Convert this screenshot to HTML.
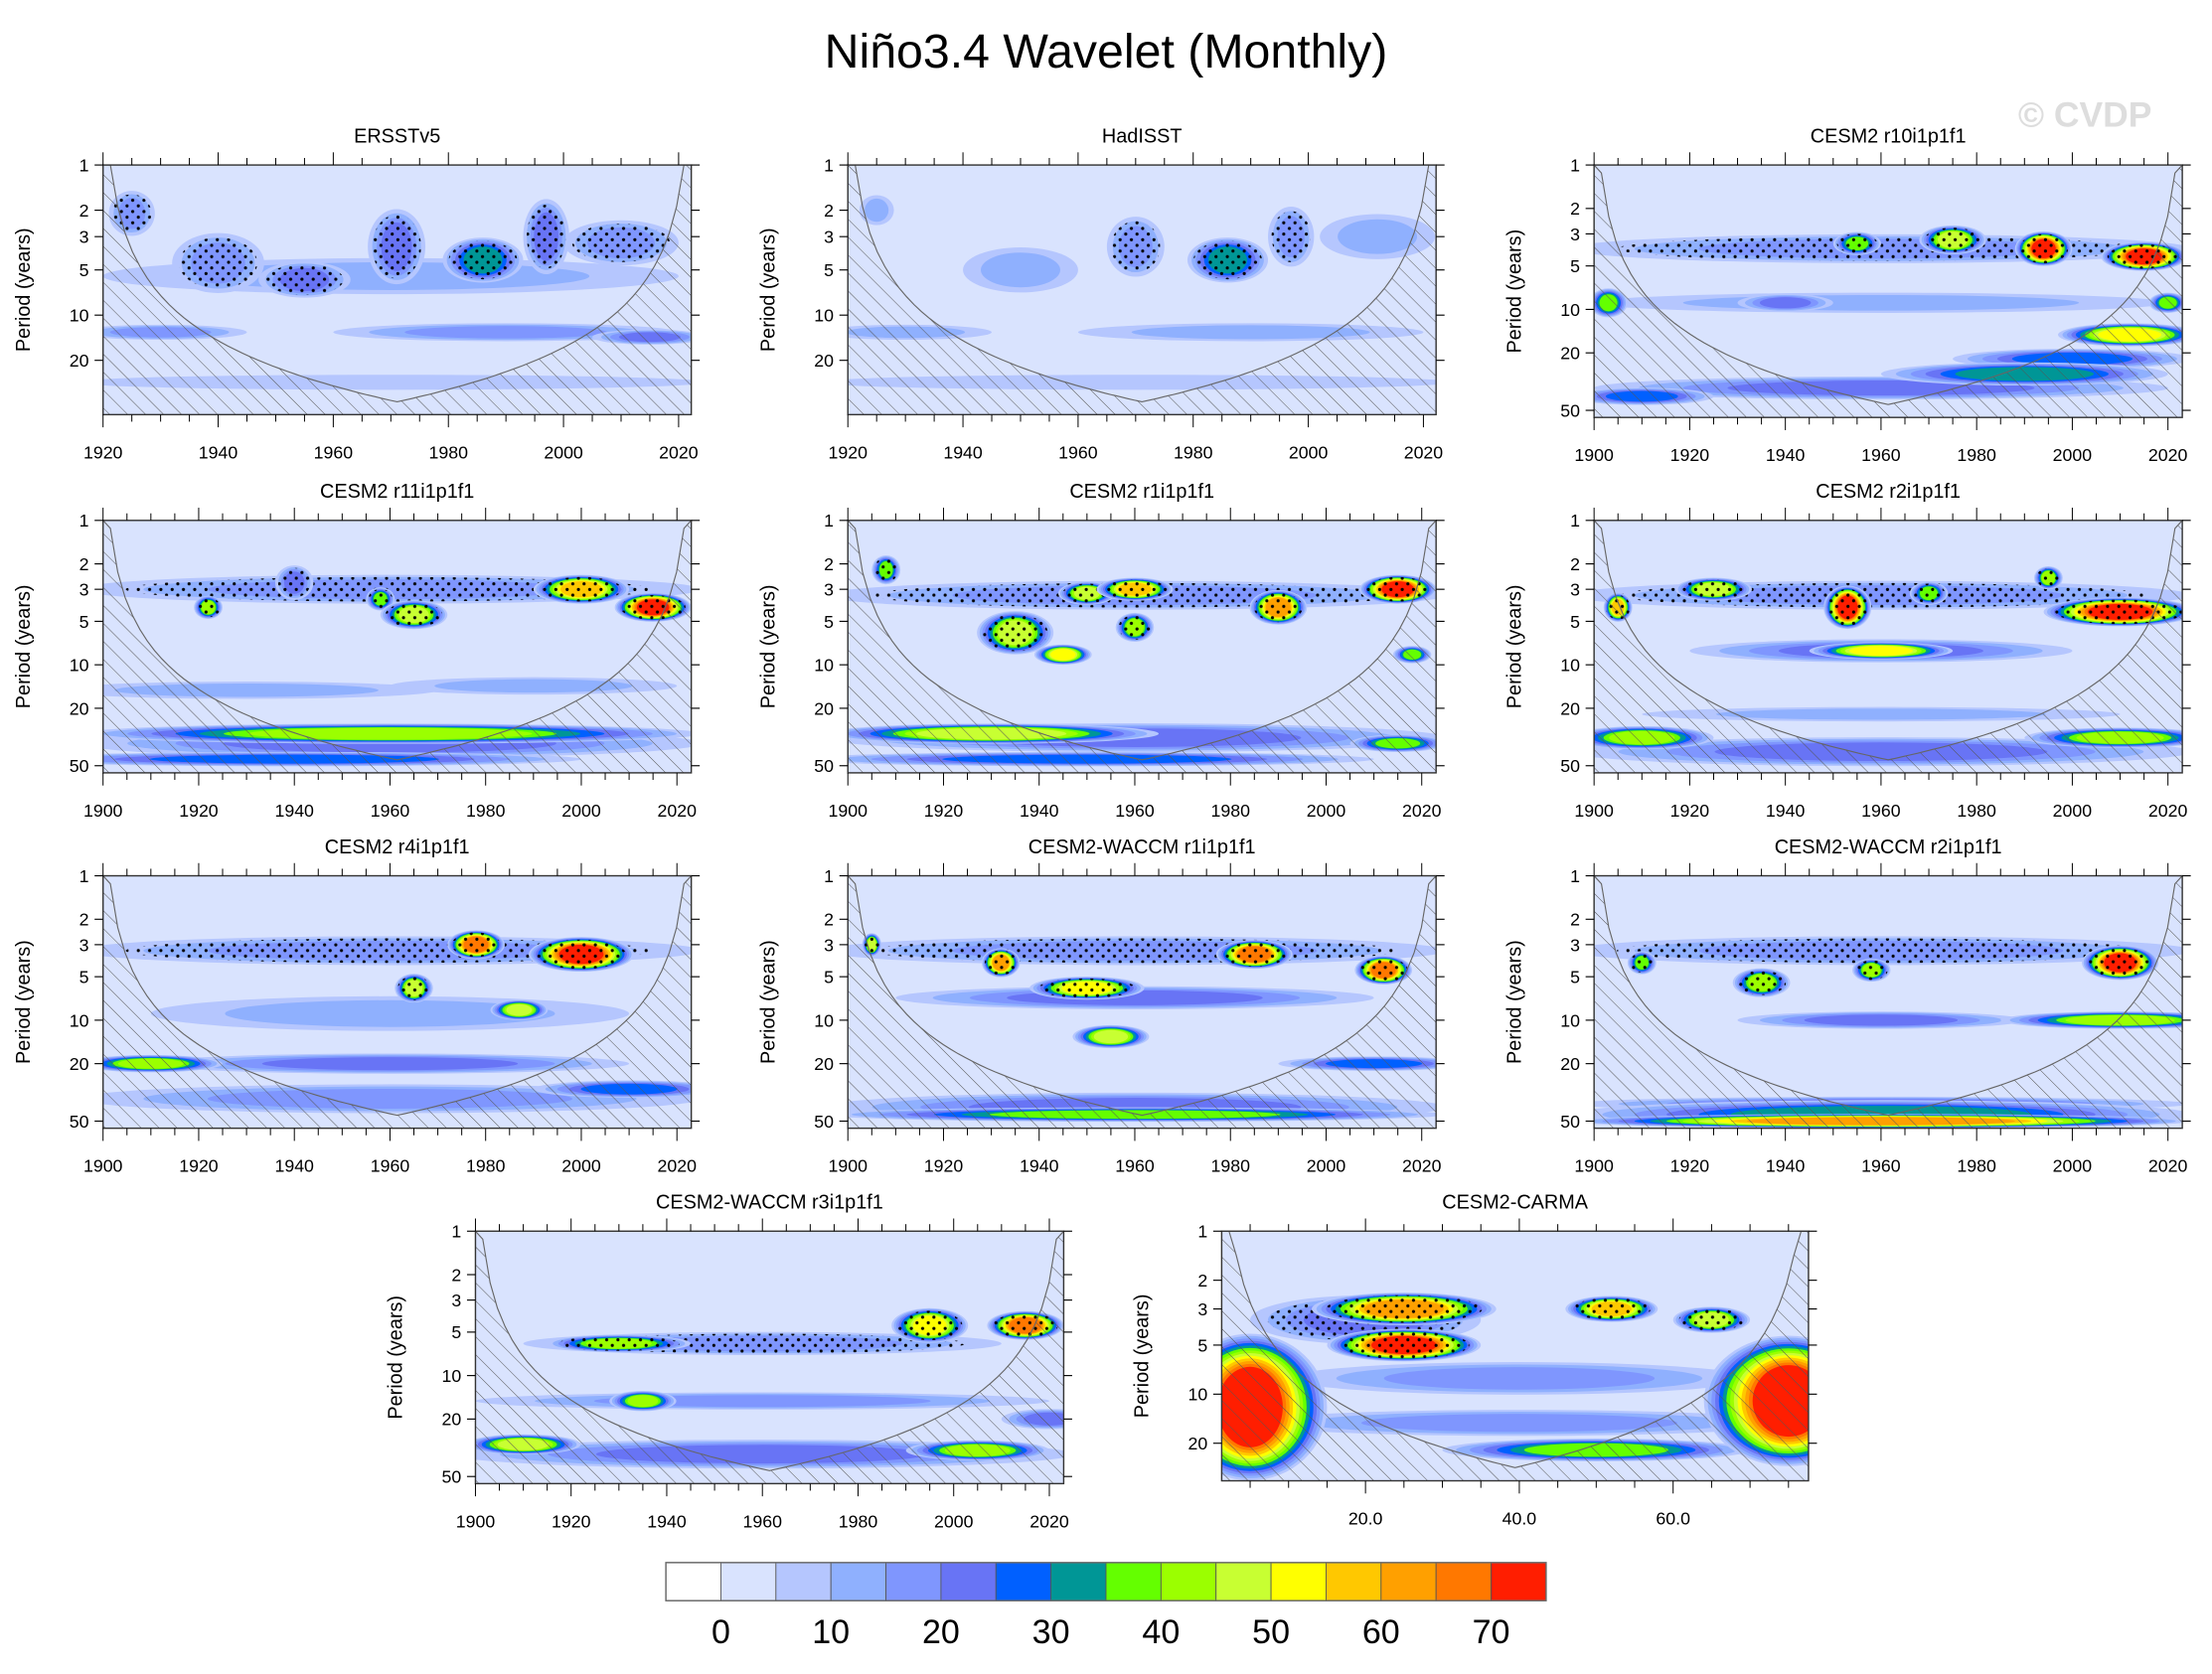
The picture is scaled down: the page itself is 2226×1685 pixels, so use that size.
<!DOCTYPE html>
<html><head><meta charset="utf-8">
<style>html,body{margin:0;padding:0;background:#fff}svg{display:block}text{font-family:"Liberation Sans",sans-serif}</style>
</head><body>
<svg id="fig" width="2226" height="1685" viewBox="0 0 1568 1187" xmlns="http://www.w3.org/2000/svg">
<defs>
<pattern id="hatch" patternUnits="userSpaceOnUse" width="9" height="9" patternTransform="rotate(-45)"><line x1="0" y1="0" x2="0" y2="9" stroke="#555" stroke-width="0.7"/></pattern>
<pattern id="dots" patternUnits="userSpaceOnUse" width="8" height="8"><circle cx="2" cy="2" r="1.1" fill="#000"/><circle cx="6" cy="6" r="1.1" fill="#000"/></pattern>
</defs>
<text x="784" y="48" font-size="34" text-anchor="middle">Niño3.4 Wavelet (Monthly)</text>
<text x="1478" y="90" font-size="25" font-weight="bold" fill="#ddd" text-anchor="middle">© CVDP</text>
<g id="panels"></g>
<g id="cbar"></g>
</svg>
<script>
const COLORS=["#ffffff","#d9e3fe","#b5c6fe","#8fb0fe","#7f96fe","#6874f5","#0060ff","#009696","#64ff00","#9bff00","#c8ff32","#ffff00","#ffc800","#ffa000","#ff7800","#ff1e00"];
const cbarLabels=["0","10","20","30","40","50","60","70"];
// blobs: [time, period, half-width(time units), half-height(decades), level]
const blobsERSST=[[1925,2.1,4,0.15,4],[1940,4.5,8,0.2,4],[1955,5.8,8,0.12,5],[1971,3.5,5,0.25,5],[1986,4.3,7,0.15,7],[1997,3,4,0.25,5],[2010,3.3,10,0.15,4],[1970,5.5,50,0.12,3],[1990,13,30,0.06,4],[1930,13,15,0.05,4],[1970,28,55,0.05,2],[2015,14,10,0.05,5]];
const blobsHad=[[1986,4.3,7,0.15,7],[1970,3.5,5,0.2,4],[1997,3,4,0.2,4],[1950,5,10,0.15,3],[1925,2,3,0.1,3],[1930,13,15,0.05,3],[1990,13,30,0.06,3],[1970,28,55,0.05,2],[2012,3,10,0.15,3]];
const blobsR10=[[1960,3.8,65,0.1,4],[1994,3.8,6,0.12,15],[2015,4.3,9,0.1,15],[1975,3.3,7,0.1,10],[1955,3.5,5,0.08,8],[1903,9,4,0.1,8],[1940,9,10,0.06,5],[1960,9,60,0.07,3],[2012,15,15,0.08,11],[2020,9,4,0.07,8],[1960,35,60,0.08,5],[1990,28,30,0.08,7],[1910,40,15,0.06,6],[2000,22,25,0.07,6]];
const blobsR11=[[1960,3,65,0.1,4],[2015,4,8,0.1,15],[2000,3,10,0.1,12],[1922,4,3,0.08,9],[1965,4.5,7,0.1,10],[1958,3.5,3,0.08,8],[1940,2.7,4,0.12,5],[1960,30,65,0.07,9],[1960,35,65,0.1,5],[1940,45,60,0.05,6],[1930,15,40,0.06,3],[1990,14,30,0.06,3]];
const blobsR1=[[1935,6,8,0.15,10],[1945,8.5,6,0.07,11],[1960,3,8,0.08,12],[1950,3.2,6,0.08,10],[1990,4,6,0.12,13],[2015,3,8,0.1,15],[1960,5.5,4,0.1,9],[1908,2.2,3,0.1,8],[1960,3.3,65,0.1,4],[2018,8.5,4,0.06,8],[1930,30,35,0.07,10],[1960,32,65,0.1,5],[2015,35,10,0.06,8],[1950,45,60,0.05,6]];
const blobsR2=[[1905,4,3,0.1,12],[1925,3,8,0.08,10],[1953,4,5,0.15,15],[1970,3.2,4,0.08,8],[1995,2.5,3,0.08,9],[2010,4.3,16,0.1,15],[1960,8,15,0.06,11],[1960,3.3,65,0.1,4],[1960,8,40,0.08,5],[1910,32,15,0.08,9],[2010,32,20,0.07,9],[1960,40,65,0.1,5],[1960,22,50,0.05,3]];
const blobsR4=[[1978,3,6,0.1,14],[2000,3.5,11,0.12,15],[1965,6,4,0.1,10],[1987,8.5,6,0.07,10],[1960,3.3,65,0.1,4],[1960,9,50,0.12,3],[1910,20,15,0.06,9],[1960,20,50,0.07,5],[1960,35,65,0.1,4],[2010,30,20,0.06,6]];
const blobsW1=[[1905,3,2,0.08,10],[1932,4,4,0.1,13],[1950,6,12,0.08,11],[1955,13,8,0.08,10],[1985,3.5,8,0.1,14],[2012,4.5,6,0.1,14],[1960,3.3,65,0.1,4],[1960,7,50,0.08,5],[1960,45,65,0.05,8],[1960,40,65,0.1,5],[2010,20,20,0.05,6]];
const blobsW2=[[2010,4,8,0.12,15],[1935,5.5,6,0.1,9],[1958,4.5,4,0.08,9],[1910,4,3,0.08,8],[2010,10,25,0.06,9],[1960,10,30,0.06,5],[1960,3.3,65,0.1,4],[1960,50,65,0.05,13],[1960,45,65,0.1,7],[1960,38,65,0.05,5]];
const blobsW3=[[1995,4.5,8,0.12,11],[2015,4.5,8,0.1,14],[1930,6,15,0.06,9],[1935,15,7,0.07,9],[1960,6,50,0.08,4],[1960,15,60,0.06,4],[2020,20,10,0.07,5],[1910,30,12,0.07,10],[2005,33,15,0.07,9],[1960,35,65,0.1,5]];
const blobsCARMA=[[40,8,30,0.1,4],[40,15,35,0.08,4],[20,3.5,15,0.15,5],[5,12,10,0.45,15],[75,11,11,0.4,15],[25,3,12,0.1,13],[25,5,10,0.1,15],[52,3,6,0.08,12],[65,3.5,5,0.08,10],[50,22,20,0.07,8]];
const yearTicks=[1900,1920,1940,1960,1980,2000,2020];
const carmaTicks=[20,40,60];
const periodTicks=[1,2,3,5,10,20,50];

const panels=[
 {name:"ERSSTv5",x0:73,x1:490,y0:117,y1:294,t0:1920,t1:2022.2,pmax:46,blobs:blobsERSST,xt:yearTicks,minor:5},
 {name:"HadISST",x0:601,x1:1018,y0:117,y1:294,t0:1920,t1:2022.2,pmax:46,blobs:blobsHad,xt:yearTicks,minor:5},
 {name:"CESM2 r10i1p1f1",x0:1130,x1:1547,y0:117,y1:296,t0:1900,t1:2023,pmax:56,blobs:blobsR10,xt:yearTicks,minor:5},
 {name:"CESM2 r11i1p1f1",x0:73,x1:490,y0:369,y1:548,t0:1900,t1:2023,pmax:56,blobs:blobsR11,xt:yearTicks,minor:5},
 {name:"CESM2 r1i1p1f1",x0:601,x1:1018,y0:369,y1:548,t0:1900,t1:2023,pmax:56,blobs:blobsR1,xt:yearTicks,minor:5},
 {name:"CESM2 r2i1p1f1",x0:1130,x1:1547,y0:369,y1:548,t0:1900,t1:2023,pmax:56,blobs:blobsR2,xt:yearTicks,minor:5},
 {name:"CESM2 r4i1p1f1",x0:73,x1:490,y0:621,y1:800,t0:1900,t1:2023,pmax:56,blobs:blobsR4,xt:yearTicks,minor:5},
 {name:"CESM2-WACCM r1i1p1f1",x0:601,x1:1018,y0:621,y1:800,t0:1900,t1:2023,pmax:56,blobs:blobsW1,xt:yearTicks,minor:5},
 {name:"CESM2-WACCM r2i1p1f1",x0:1130,x1:1547,y0:621,y1:800,t0:1900,t1:2023,pmax:56,blobs:blobsW2,xt:yearTicks,minor:5},
 {name:"CESM2-WACCM r3i1p1f1",x0:337,x1:754,y0:873,y1:1052,t0:1900,t1:2023,pmax:56,blobs:blobsW3,xt:yearTicks,minor:5},
 {name:"CESM2-CARMA",x0:866,x1:1282,y0:873,y1:1050,t0:1.3,t1:77.6,pmax:34,blobs:blobsCARMA,xt:carmaTicks,minor:5,fmt:v=>v.toFixed(1)}
];
const NS="http://www.w3.org/2000/svg";
function mk(tag,attrs,parent){const e=document.createElementNS(NS,tag);for(const k in attrs)e.setAttribute(k,attrs[k]);if(parent)parent.appendChild(e);return e;}
const root=document.getElementById('panels');
panels.forEach((P,pi)=>{
  const g=mk('g',{},root);
  
  
  const W=P.x1-P.x0,H=P.y1-P.y0;
  const xs=t=>P.x0+(t-P.t0)/(P.t1-P.t0)*W;
  const ys=p=>P.y0+Math.log10(p)/Math.log10(P.pmax)*H;
  const cid='clip'+pi;
  const cp=mk('clipPath',{id:cid},g);mk('rect',{x:P.x0,y:P.y0,width:W,height:H},cp);
  const plot=mk('g',{'clip-path':'url(#'+cid+')'},g);
  const bg=mk('rect',{x:P.x0,y:P.y0,width:W,height:H,fill:COLORS[1]},plot);
  
  
  const ug=mk('g',{},plot);
  const pxPerDec=H/Math.log10(P.pmax);
  const sorted=P.blobs.slice().sort((a,b)=>a[4]-b[4]);
  sorted.forEach(b=>{
    const [t,p,dt,dl,L]=b;
    const cx=xs(t),cy=ys(p),rx=dt/(P.t1-P.t0)*W,ry=dl*pxPerDec;
    for(let l=2;l<=L;l++){
      const s=1-(l-2)/Math.max(1,L-1)*0.62;
      const e=mk('ellipse',{cx:cx,cy:cy,rx:rx*s,ry:ry*Math.pow(s,0.7),fill:COLORS[l]},ug);
      
      
    }
    if(p<6.5 && L>=4){
      const d=mk('ellipse',{cx:cx,cy:cy,rx:rx*0.85,ry:ry*0.85,fill:'url(#dots)'},ug);
      
      
    }
  });
  const k=0.74;let pts=[];
  const N=80;
  for(let i=0;i<=N;i++){const t=P.t0+(P.t1-P.t0)*i/N;const d=Math.max(0.05,Math.min(t-P.t0,P.t1-t));let pp=Math.max(1,k*d);pts.push([xs(t),Math.min(ys(pp),P.y1+5)]);}
  let dpath='M'+P.x0+','+(P.y1+5)+' '+pts.map(q=>'L'+q[0].toFixed(1)+','+q[1].toFixed(1)).join(' ')+' L'+P.x1+','+(P.y1+5)+'Z';
  const hz=mk('path',{d:dpath,fill:'url(#hatch)',stroke:'none'},plot);
  
  
  const cl=mk('path',{d:'M'+pts.map(q=>q[0].toFixed(1)+','+q[1].toFixed(1)).join(' L'),fill:'none',stroke:'#666',"stroke-width":0.8},plot);
  
  
  const fr=mk('rect',{x:P.x0,y:P.y0,width:W,height:H,fill:'none',stroke:'#333',"stroke-width":1},g);
  
  
  const tt=mk('text',{x:(P.x0+P.x1)/2,y:P.y0-16,"font-size":14,"text-anchor":"middle"},g);tt.textContent=P.name;
  
  
  periodTicks.filter(p=>p<=P.pmax).forEach(p=>{
    const y=ys(p);
    mk('line',{x1:P.x0-6,y1:y,x2:P.x0,y2:y,stroke:'#000',"stroke-width":0.8},g);
    mk('line',{x1:P.x1,y1:y,x2:P.x1+6,y2:y,stroke:'#000',"stroke-width":0.8},g);
    const tx=mk('text',{x:P.x0-10,y:y+4.5,"font-size":12.5,"text-anchor":"end"},g);tx.textContent=p;
    
    
  });
  const yt=mk('text',{x:0,y:0,"font-size":14,"text-anchor":"middle",transform:'translate('+(P.x0-52)+','+(P.y0+H/2)+') rotate(-90)'},g);yt.textContent='Period (years)';
  
  
  const start=Math.ceil(P.t0/P.minor)*P.minor;
  for(let t=start;t<=P.t1;t+=P.minor){
    const x=xs(t);const major=P.xt.includes(t);
    mk('line',{x1:x,y1:P.y1,x2:x,y2:P.y1+(major?9:5),stroke:'#000',"stroke-width":0.7},g);
    mk('line',{x1:x,y1:P.y0,x2:x,y2:P.y0-(major?9:5),stroke:'#000',"stroke-width":0.7},g);
  }
  P.xt.filter(t=>t>=P.t0&&t<=P.t1+0.5).forEach(t=>{
    const tx=mk('text',{x:xs(t),y:P.y1+31,"font-size":12.5,"text-anchor":"middle"},g);tx.textContent=P.fmt?P.fmt(t):t;
    
    
  });
});
const cb=document.getElementById('cbar');


const cbx0=472,cbx1=1096,cby=1108,cbh=27,bw=(cbx1-cbx0)/COLORS.length;
COLORS.forEach((c,i)=>{
  const r=mk('rect',{x:cbx0+i*bw,y:cby,width:bw,height:cbh,fill:c,stroke:'#555',"stroke-width":0.6},cb);
  
  
});
mk('rect',{x:cbx0,y:cby,width:cbx1-cbx0,height:cbh,fill:'none',stroke:'#666',"stroke-width":1},cb);
cbarLabels.forEach((s,i)=>{
  const t=mk('text',{x:cbx0+(1+2*i)*bw,y:cby+57,"font-size":24,"text-anchor":"middle"},cb);t.textContent=s;
  
  
});
</script>
</body></html>
